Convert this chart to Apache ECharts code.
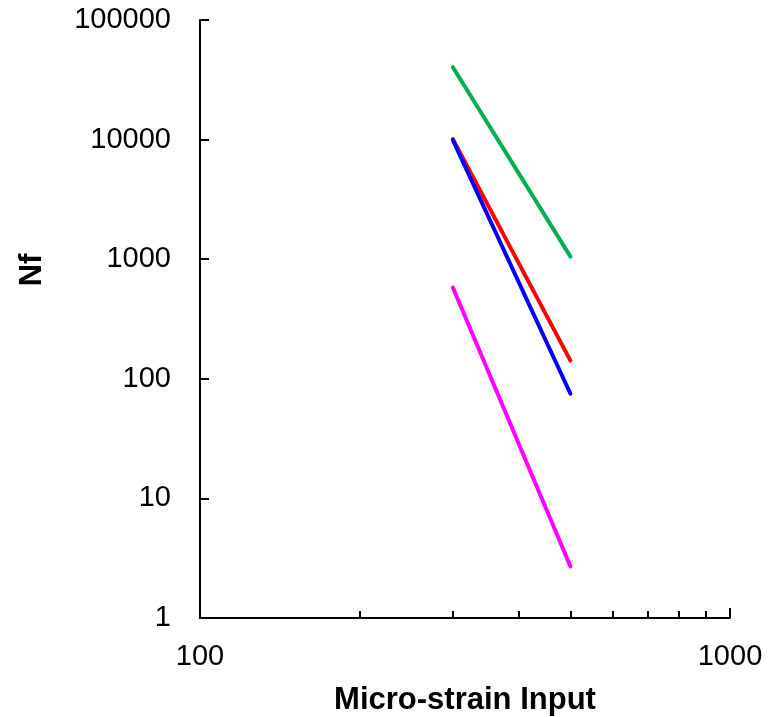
<!DOCTYPE html>
<html>
<head>
<meta charset="utf-8">
<script src="https://cdn.jsdelivr.net/npm/echarts@6/dist/echarts.min.js"></script>
<style>
  html, body { margin: 0; padding: 0; background: #fff; }
  #chart { width: 778px; height: 717px; }
</style>
</head>
<body>
<div id="chart"></div>
<script>
// Strain levels (micro-strain) at which each fatigue curve is evaluated
const strainInput = [300, 500];

// Cycles to failure (Nf) for each curve at those strains
const nfGreen = [40300, 1050];
const nfRed = [10100, 142];
const nfBlue = [9900, 75];
const nfMagenta = [580, 2.7];

// Axis tick values
const xMajorTicks = [100, 1000];
const xMinorTicks = [200, 300, 400, 500, 600, 700, 800, 900];
const yTicks = [1, 10, 100, 1000, 10000, 100000];

const FONT = 'Liberation Sans, Arial, sans-serif';

function pairs(xs, ys) {
  return xs.map((x, i) => [x, ys[i]]);
}

// Plain integer labels, no thousands separators
function plain(value) {
  return String(Math.round(value));
}

function curve(name, color, values) {
  return {
    name: name,
    type: 'line',
    xAxisIndex: 0,
    yAxisIndex: 0,
    data: pairs(strainInput, values),
    showSymbol: false,
    symbol: 'none',
    silent: true,
    lineStyle: { color: color, width: 4, cap: 'round' },
    animation: false
  };
}

const chart = echarts.init(document.getElementById('chart'), null, { renderer: 'canvas' });

chart.setOption({
  backgroundColor: '#ffffff',
  animation: false,
  grid: { left: 200, right: 48, top: 20, bottom: 99, outerBoundsMode: 'none' },
  xAxis: [
    {
      type: 'log',
      logBase: 10,
      min: 100,
      max: 1000,
      axisLine: { show: true, lineStyle: { color: '#000', width: 2 } },
      axisTick: { show: true, inside: true, length: 10, customValues: xMajorTicks,
                  lineStyle: { color: '#000', width: 2 } },
      axisLabel: { show: true, customValues: xMajorTicks, margin: 24, formatter: plain,
                   color: '#000', fontSize: 29, fontFamily: FONT },
      splitLine: { show: false },
      minorTick: { show: false }
    },
    {
      type: 'log',
      logBase: 10,
      min: 100,
      max: 1000,
      position: 'bottom',
      axisLine: { show: false },
      axisTick: { show: true, inside: true, length: 7, customValues: xMinorTicks,
                  lineStyle: { color: '#000', width: 2 } },
      axisLabel: { show: false },
      splitLine: { show: false }
    }
  ],
  yAxis: {
    type: 'log',
    logBase: 10,
    min: 1,
    max: 100000,
    axisLine: { show: true, lineStyle: { color: '#000', width: 2 } },
    axisTick: { show: true, inside: true, length: 9, customValues: yTicks,
                lineStyle: { color: '#000', width: 2 } },
    axisLabel: { show: true, customValues: yTicks, margin: 29, formatter: plain,
                 color: '#000', fontSize: 29, fontFamily: FONT },
    splitLine: { show: false }
  },
  graphic: [
    {
      type: 'text',
      x: 32,
      y: 270,
      rotation: Math.PI / 2,
      style: { text: 'Nf', font: 'bold 31px ' + FONT, fill: '#000',
               align: 'center', verticalAlign: 'middle' }
    },
    {
      type: 'text',
      x: 465,
      y: 700,
      style: { text: 'Micro-strain Input', font: 'bold 31px ' + FONT, fill: '#000',
               align: 'center', verticalAlign: 'middle' }
    }
  ],
  series: [
    curve('Green', '#00B050', nfGreen),
    curve('Red', '#FF0000', nfRed),
    curve('Blue', '#0000FF', nfBlue),
    curve('Magenta', '#FF00FF', nfMagenta)
  ]
});
</script>
</body>
</html>
